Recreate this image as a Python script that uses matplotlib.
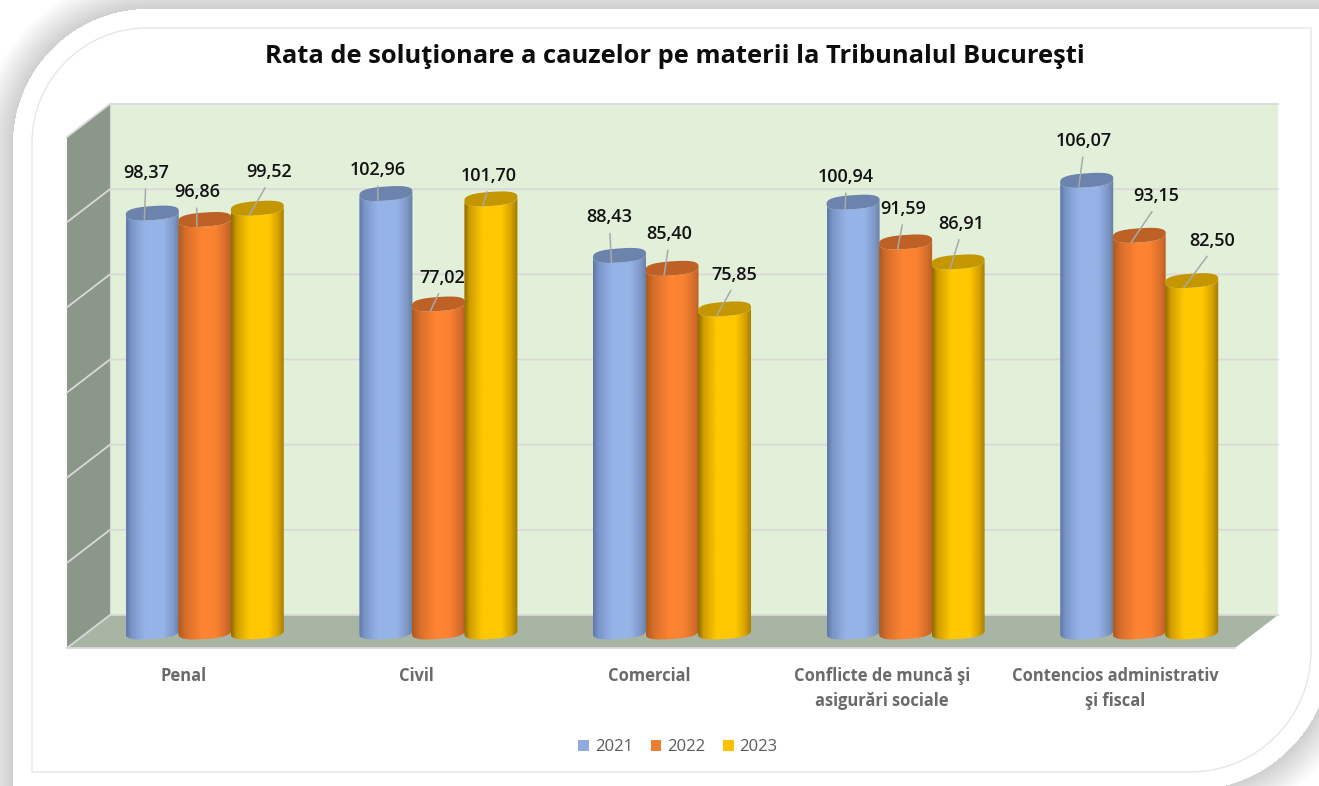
import numpy as np
import matplotlib
matplotlib.use("Agg")
import matplotlib.pyplot as plt
from matplotlib.colors import to_rgb
from matplotlib.patches import Patch, Polygon, PathPatch
from matplotlib.path import Path

# ---------- data ----------
title = "Rata de soluţionare a cauzelor pe materii la Tribunalul Bucureşti"
categories = ["Penal", "Civil", "Comercial",
              "Conflicte de muncă şi\nasigurări sociale",
              "Contencios administrativ\nşi fiscal"]
years = ["2021", "2022", "2023"]
values_2021 = [98.37, 102.96, 88.43, 100.94, 106.07]
values_2022 = [96.86, 77.02, 85.40, 91.59, 93.15]
values_2023 = [99.52, 101.70, 75.85, 86.91, 82.50]
y_ticks = [0, 20, 40, 60, 80, 100, 120]

# ---------- label placement (pixels from the top of each bar) ----------
label_dx = [[-6.5, -8, 11.5], [-8, 3.4, -2], [-10, -3, 10], [-7, -2, 3], [-3, 17, 20]]
label_dy = [[42, 29.4, 38], [25.4, 28, 25], [40, 36, 36], [27, 35, 40], [41, 41, 41.5]]

# ---------- style ----------
W, H = 1319, 786
F_LEFT, F_RIGHT, F_BOTTOM, F_TOP = 67, 1235, 648, 137
PX_X = (F_RIGHT - F_LEFT) / 5
PX_Y = (F_BOTTOM - F_TOP) / 120
dx_depth, dy_depth = 43 / PX_X, 33 / PX_Y
bar_dx, bar_dy = 21 / PX_X, 16 / PX_Y
bar_pitch, bar_a, bar_b, bar_tilt = 52.5 / PX_X, 26.5, 7.0, 0.07
tip_dx, tip_dy = -8, -7
label_pitch = 232.8 / PX_X

ramps = [
    ([0, .1, .35, .7, .9, 1], ["#5f7aa8", "#7a95c8", "#96b3e8", "#96b3e8", "#7d96c6", "#66809f"]),
    ([0, .15, .45, .7, .9, 1], ["#b05a22", "#d96f2b", "#ff8533", "#fb8231", "#d56d2b", "#b85e24"]),
    ([0, .1, .35, .7, .88, 1], ["#8f6e00", "#d19d00", "#ffc800", "#ffc800", "#d6a200", "#a07a00"]),
]
top_colors = ["#6b83ad", "#bd6126", "#c49700"]
legend_colors = ["#8FAADC", "#ED7D31", "#FFC000"]

fig = plt.figure(figsize=((W + 0.01) / 100, (H + 0.01) / 100), dpi=100, facecolor="white")

# ---------- background panel with shadow ----------
bg = fig.add_axes([0, 0, 1, 1], zorder=0)
bg.set_xlim(0, W)
bg.set_ylim(H, 0)
bg.axis("off")
xx, yy = np.meshgrid(np.arange(W) + .5, np.arange(H) + .5)
d = np.maximum.reduce([13 - xx, 10 - yy, xx - 1330, yy - 790])
tl = (xx < 148) & (yy < 145)
d = np.where(tl, np.hypot(xx - 148, yy - 145) - 135, d)
br = (xx > 1190) & (yy > 650)
d = np.where(br, np.hypot(xx - 1190, yy - 650) - 140, d)
shade = np.where(d <= 0, 1.0, np.clip((207 + 1.4 * d) / 255, 0, 1))
bg.imshow(shade, cmap="gray", vmin=0, vmax=1, extent=(0, W, H, 0), aspect="auto", interpolation="bilinear")
bg.set_xlim(0, W)
bg.set_ylim(H, 0)

k = 0.5523
r1, r2 = 115, 121
x0, x1, y0, y1 = 32, 1311, 28, 772
verts = [(x0, y0 + r1), (x0, y0 + r1 - k * r1), (x0 + r1 - k * r1, y0), (x0 + r1, y0),
         (x1, y0), (x1, y1 - r2), (x1, y1 - r2 + k * r2), (x1 - r2 + k * r2, y1), (x1 - r2, y1),
         (x0, y1), (x0, y0 + r1)]
codes = [Path.MOVETO, Path.CURVE4, Path.CURVE4, Path.CURVE4,
         Path.LINETO, Path.LINETO, Path.CURVE4, Path.CURVE4, Path.CURVE4,
         Path.LINETO, Path.LINETO]
bg.add_patch(PathPatch(Path(verts, codes), fc="none", ec="#e6e6e6", lw=1))

# ---------- chart axes: the front plane of the 3-D box ----------
ax = fig.add_axes([F_LEFT / W, 1 - F_BOTTOM / H, (F_RIGHT - F_LEFT) / W, (F_BOTTOM - F_TOP) / H], zorder=1)
ax.patch.set_visible(False)
for s in ax.spines.values():
    s.set_visible(False)
xl, xr = -0.5, 4.5
ymin, ymax = 0, 120

wall_edge = "#d9d9d9"
ax.add_patch(Polygon([(xl + dx_depth, ymin + dy_depth), (xr + dx_depth, ymin + dy_depth),
                      (xr + dx_depth, ymax + dy_depth), (xl + dx_depth, ymax + dy_depth)],
                     fc="#e2efd9", ec="none", zorder=1, clip_on=False))
ax.add_patch(Polygon([(xl, ymin), (xl + dx_depth, ymin + dy_depth),
                      (xl + dx_depth, ymax + dy_depth), (xl, ymax)],
                     fc="#8b9788", ec="none", zorder=1, clip_on=False))
ax.add_patch(Polygon([(xl, ymin), (xr, ymin), (xr + dx_depth, ymin + dy_depth), (xl + dx_depth, ymin + dy_depth)],
                     fc="#a9b5a4", ec="none", zorder=1, clip_on=False))
for t in y_ticks:
    ax.plot([xl, xl + dx_depth, xr + dx_depth], [t, t + dy_depth, t + dy_depth],
            color=wall_edge, lw=1.3, zorder=2, clip_on=False, solid_joinstyle="miter")
ax.plot([xl + dx_depth, xl + dx_depth], [ymin + dy_depth, ymax + dy_depth],
        color=wall_edge, lw=0.8, zorder=2, clip_on=False)
ax.plot([xl, xr], [ymin, ymin], color=wall_edge, lw=1.3, zorder=2, clip_on=False)

def ramp(j):
    pos, cols = ramps[j]
    arr = np.array([to_rgb(c) for c in cols])
    t = np.linspace(0, 1, 64)
    return np.stack([np.interp(t, pos, arr[:, c]) for c in range(3)], axis=1)[None, :, :]

def ellipse(xc, yc, t):
    c = np.sign(np.cos(t)) * np.abs(np.cos(t)) ** 0.75
    s = np.sign(np.sin(t)) * np.abs(np.sin(t)) ** 0.75
    return (xc + bar_a * c / PX_X,
            yc + (bar_b * s + bar_tilt * bar_a * c) / PX_Y)

def cylinder(xc, value, j):
    base = bar_dy
    top = base + value
    t = np.linspace(np.pi, 2 * np.pi, 60)
    bx, by = ellipse(xc, base, t)
    tx, ty = ellipse(xc, top, t[::-1])
    poly = Polygon(np.column_stack([np.r_[bx, tx], np.r_[by, ty]]), fc="none", ec="none", zorder=3 + j)
    ax.add_patch(poly)
    im = ax.imshow(ramp(j), extent=(xc - bar_a / PX_X, xc + bar_a / PX_X, by.min() - 1, ty.max() + 1),
                   aspect="auto", interpolation="bilinear", zorder=3 + j)
    im.set_clip_path(poly)
    t_all = np.linspace(0, 2 * np.pi, 120)
    ex, ey = ellipse(xc, top, t_all)
    ax.add_patch(Polygon(np.column_stack([ex, ey]), fc=top_colors[j], ec="none", zorder=3 + j))

series = [values_2021, values_2022, values_2023]
for j, vals in enumerate(series):
    for g, v in enumerate(vals):
        xc = g + bar_dx + (j - 1) * bar_pitch
        cylinder(xc, v, j)
        ax.annotate(f"{v:.2f}".replace(".", ","),
                    xy=(xc + tip_dx / PX_X, v + bar_dy + tip_dy / PX_Y),
                    xytext=(label_dx[g][j] - tip_dx, label_dy[g][j] - tip_dy - 2),
                    textcoords="offset pixels", ha="center", va="center",
                    fontsize=13, fontweight="semibold", color="#111111", family="Open Sans", zorder=10,
                    annotation_clip=False,
                    arrowprops=dict(arrowstyle="-", color="#a9a9a9", lw=1.1, relpos=(0.5, 0),
                                    shrinkA=3, shrinkB=0, zorder=9))

ax.set_xlim(xl, xr)
ax.set_ylim(ymin, ymax)
ax.set_yticks(y_ticks)
ax.set_yticklabels([])
ax.set_xticks([g * label_pitch for g in range(len(categories))])
ax.set_xticklabels(categories, fontsize=11.9, fontweight="bold", color="#6a6a6a",
                   family="Open Sans", linespacing=1.45, va="top")
ax.tick_params(axis="both", length=0, pad=14)

fig.text(674.5 / W, 1 - 56.5 / H, title, ha="center", va="center",
         fontsize=18.35, fontweight="bold", family="Open Sans", color="#0d0d0d")

handles = [Patch(fc=c, ec="none", label=y) for c, y in zip(legend_colors, years)]
fig.legend(handles=handles, loc="center", bbox_to_anchor=(678 / W, 1 - 747 / H), ncol=3, frameon=False,
           prop={"family": "Open Sans", "size": 12}, labelcolor="#595959",
           handlelength=0.65, handleheight=0.65, handletextpad=0.35, columnspacing=1.05)

fig.savefig("out.png", dpi=100, facecolor="white")
